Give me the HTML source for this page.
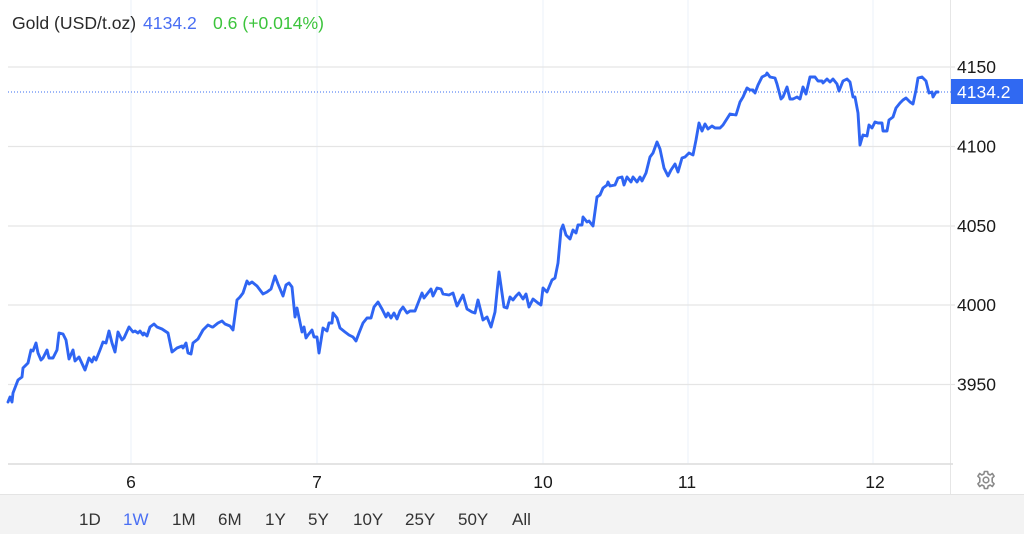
<!DOCTYPE html>
<html>
<head>
<meta charset="utf-8">
<style>
  html,body{margin:0;padding:0;background:#fff;}
  body{width:1024px;height:534px;overflow:hidden;position:relative;font-family:"Liberation Sans",Arial,sans-serif;}
  svg{position:absolute;left:0;top:0;}
  .btn{position:absolute;top:510px;font-size:17px;color:#333;line-height:20px;}
</style>
</head>
<body>
<svg width="1024" height="534" viewBox="0 0 1024 534" xmlns="http://www.w3.org/2000/svg">
  <!-- bottom panel -->
  <rect x="0" y="494" width="1024" height="40" fill="#f3f3f3"/>
  <line x1="0" y1="494.5" x2="1024" y2="494.5" stroke="#e4e4e4" stroke-width="1"/>
  <!-- vertical gridlines -->
  <g stroke="#eef2f9" stroke-width="1.2">
    <line x1="131" y1="0" x2="131" y2="464"/>
    <line x1="317" y1="0" x2="317" y2="464"/>
    <line x1="543" y1="0" x2="543" y2="464"/>
    <line x1="688" y1="0" x2="688" y2="464"/>
    <line x1="873" y1="0" x2="873" y2="464"/>
  </g>
  <!-- right axis separator -->
  <line x1="950.5" y1="0" x2="950.5" y2="494" stroke="#e6e6e6" stroke-width="1"/>
  <!-- horizontal gridlines -->
  <g stroke="#e5e5e5" stroke-width="1.3">
    <line x1="8" y1="67" x2="955" y2="67"/>
    <line x1="8" y1="146.5" x2="955" y2="146.5"/>
    <line x1="8" y1="226" x2="955" y2="226"/>
    <line x1="8" y1="305" x2="955" y2="305"/>
    <line x1="8" y1="384.5" x2="955" y2="384.5"/>
  </g>
  <line x1="8" y1="464" x2="953" y2="464" stroke="#dcdcdc" stroke-width="1.5"/>
  <!-- price dotted line -->
  <line x1="8" y1="92" x2="951" y2="92" stroke="#3a6df0" stroke-width="1" stroke-dasharray="1,2"/>
  <!-- series -->
  <path fill="none" stroke="#2f65f3" stroke-width="2.9" stroke-linejoin="round" stroke-linecap="round"
    d="M8,402 L10,397 L12,402 L13,393 L18,380 L22,377 L23,368 L28,363 L31,350 L33,351 L36,343 L38,353 L41,360 L43,358 L47,350 L49,358 L53,358 L57,350 L59,333 L63,334 L66,340 L69,359 L73,350 L75,361 L79,357 L85,370 L89,358 L92,362 L94,357 L96,360 L100,350 L103,342 L106,343 L109,331 L112,343 L115,352 L118,332 L122,340 L124,338 L129,327 L133,332 L135,331 L138,333 L140,331 L143,335 L144,333 L147,336 L150,327 L154,324 L157,327 L162,329 L168,333 L172,352 L177,348 L182,346 L183,348 L186,343 L188,353 L191,354 L193,343 L198,339 L203,330 L208,325 L212,327 L213,327 L218,323 L222,321 L225,324 L230,326 L233,330 L237,300 L240,297 L243,293 L247,281 L249,284 L252,282 L257,286 L263,294 L267,292 L271,289 L275,276 L278,284 L283,296 L286,285 L289,283 L292,287 L295,317 L297,308 L302,332 L304,327 L306,338 L308,335 L312,330 L314,337 L317,337 L319,353 L323,328 L327,331 L329,323 L332,323 L333,313 L337,318 L340,328 L345,332 L349,335 L353,337 L356,341 L359,333 L363,323 L367,318 L371,318 L374,307 L378,302 L382,309 L386,317 L388,313 L391,318 L394,313 L397,319 L400,311 L403,307 L407,313 L410,311 L415,311 L422,293 L424,298 L431,289 L433,296 L437,288 L441,289 L443,294 L449,295 L453,293 L457,306 L463,295 L467,309 L472,312 L475,313 L478,300 L483,320 L487,317 L491,327 L495,312 L499,272 L504,307 L507,308 L510,297 L513,300 L516,296 L519,293 L523,299 L526,294 L529,307 L533,299 L538,303 L541,305 L543,288 L547,292 L552,280 L555,278 L558,263 L561,230 L563,225 L566,235 L570,239 L573,230 L576,233 L578,225 L582,225 L583,217 L587,222 L589,221 L593,226 L597,197 L600,195 L603,188 L607,185 L608,182 L610,186 L615,185 L618,178 L622,177 L624,185 L627,177 L631,182 L633,177 L637,182 L640,177 L642,181 L646,173 L650,157 L653,153 L657,142 L660,149 L664,168 L668,176 L671,170 L675,164 L678,172 L682,158 L685,157 L689,153 L693,155 L696,140 L699,123 L702,131 L705,124 L708,129 L712,126 L715,128 L720,128 L723,125 L730,114 L736,115 L740,102 L743,97 L747,88 L750,90 L753,90 L755,93 L758,85 L762,77 L766,75 L767,73 L770,77 L775,78 L777,84 L781,99 L783,97 L787,87 L790,99 L793,99 L797,97 L800,99 L803,87 L806,94 L810,77 L815,77 L818,81 L822,81 L823,83 L827,79 L830,82 L833,79 L837,84 L839,91 L843,81 L847,79 L850,82 L853,97 L855,97 L858,113 L860,145 L862,138 L863,135 L867,136 L869,125 L872,128 L875,122 L878,123 L882,123 L883,131 L887,131 L889,120 L893,117 L896,108 L900,103 L903,100 L906,98 L910,102 L913,104 L916,90 L918,78 L922,77 L926,81 L929,93 L932,92 L933,97 L936,92 L938,92"/>
  <!-- y axis labels -->
  <g font-family="Liberation Sans, Arial, sans-serif" font-size="17.5" fill="#1a1a1a">
    <text x="957" y="73">4150</text>
    <text x="957" y="152.5">4100</text>
    <text x="957" y="232">4050</text>
    <text x="957" y="311">4000</text>
    <text x="957" y="390.5">3950</text>
  </g>
  <!-- badge -->
  <rect x="951" y="79" width="72" height="25" fill="#3069f2"/>
  <text x="957" y="98" font-family="Liberation Sans, Arial, sans-serif" font-size="17.5" fill="#fff">4134.2</text>
  <!-- x labels -->
  <g font-family="Liberation Sans, Arial, sans-serif" font-size="17.5" fill="#1a1a1a" text-anchor="middle">
    <text x="131" y="488">6</text>
    <text x="317" y="488">7</text>
    <text x="543" y="488">10</text>
    <text x="687" y="488">11</text>
    <text x="875" y="488">12</text>
  </g>
  <!-- header -->
  <text x="12" y="29" font-family="Liberation Sans, Arial, sans-serif" font-size="17.6" fill="#2a2a2a">Gold (USD/t.oz)</text>
  <text x="143" y="29" font-family="Liberation Sans, Arial, sans-serif" font-size="17.6" fill="#4a6ff3">4134.2</text>
  <text x="213" y="29" font-family="Liberation Sans, Arial, sans-serif" font-size="17.6" fill="#3cc43c">0.6 (+0.014%)</text>
  <!-- gear -->
  <g transform="translate(986,480)" fill="none" stroke="#8a8a8a" stroke-width="1.6">
    <path d="M-1.6,-8.5 L1.6,-8.5 L2.1,-6 L4.2,-5 L6.3,-6.5 L8.1,-3.8 L6.2,-1.9 L6.2,1.9 L8.1,3.8 L6.3,6.5 L4.2,5 L2.1,6 L1.6,8.5 L-1.6,8.5 L-2.1,6 L-4.2,5 L-6.3,6.5 L-8.1,3.8 L-6.2,1.9 L-6.2,-1.9 L-8.1,-3.8 L-6.3,-6.5 L-4.2,-5 L-2.1,-6 Z" stroke-linejoin="round"/>
    <circle cx="0" cy="0" r="2.8"/>
  </g>
</svg>
<div class="btn" style="left:79px">1D</div>
<div class="btn" style="left:123px;color:#4a6ff3">1W</div>
<div class="btn" style="left:172px">1M</div>
<div class="btn" style="left:218px">6M</div>
<div class="btn" style="left:265px">1Y</div>
<div class="btn" style="left:308px">5Y</div>
<div class="btn" style="left:353px">10Y</div>
<div class="btn" style="left:405px">25Y</div>
<div class="btn" style="left:458px">50Y</div>
<div class="btn" style="left:512px">All</div>
</body>
</html>
